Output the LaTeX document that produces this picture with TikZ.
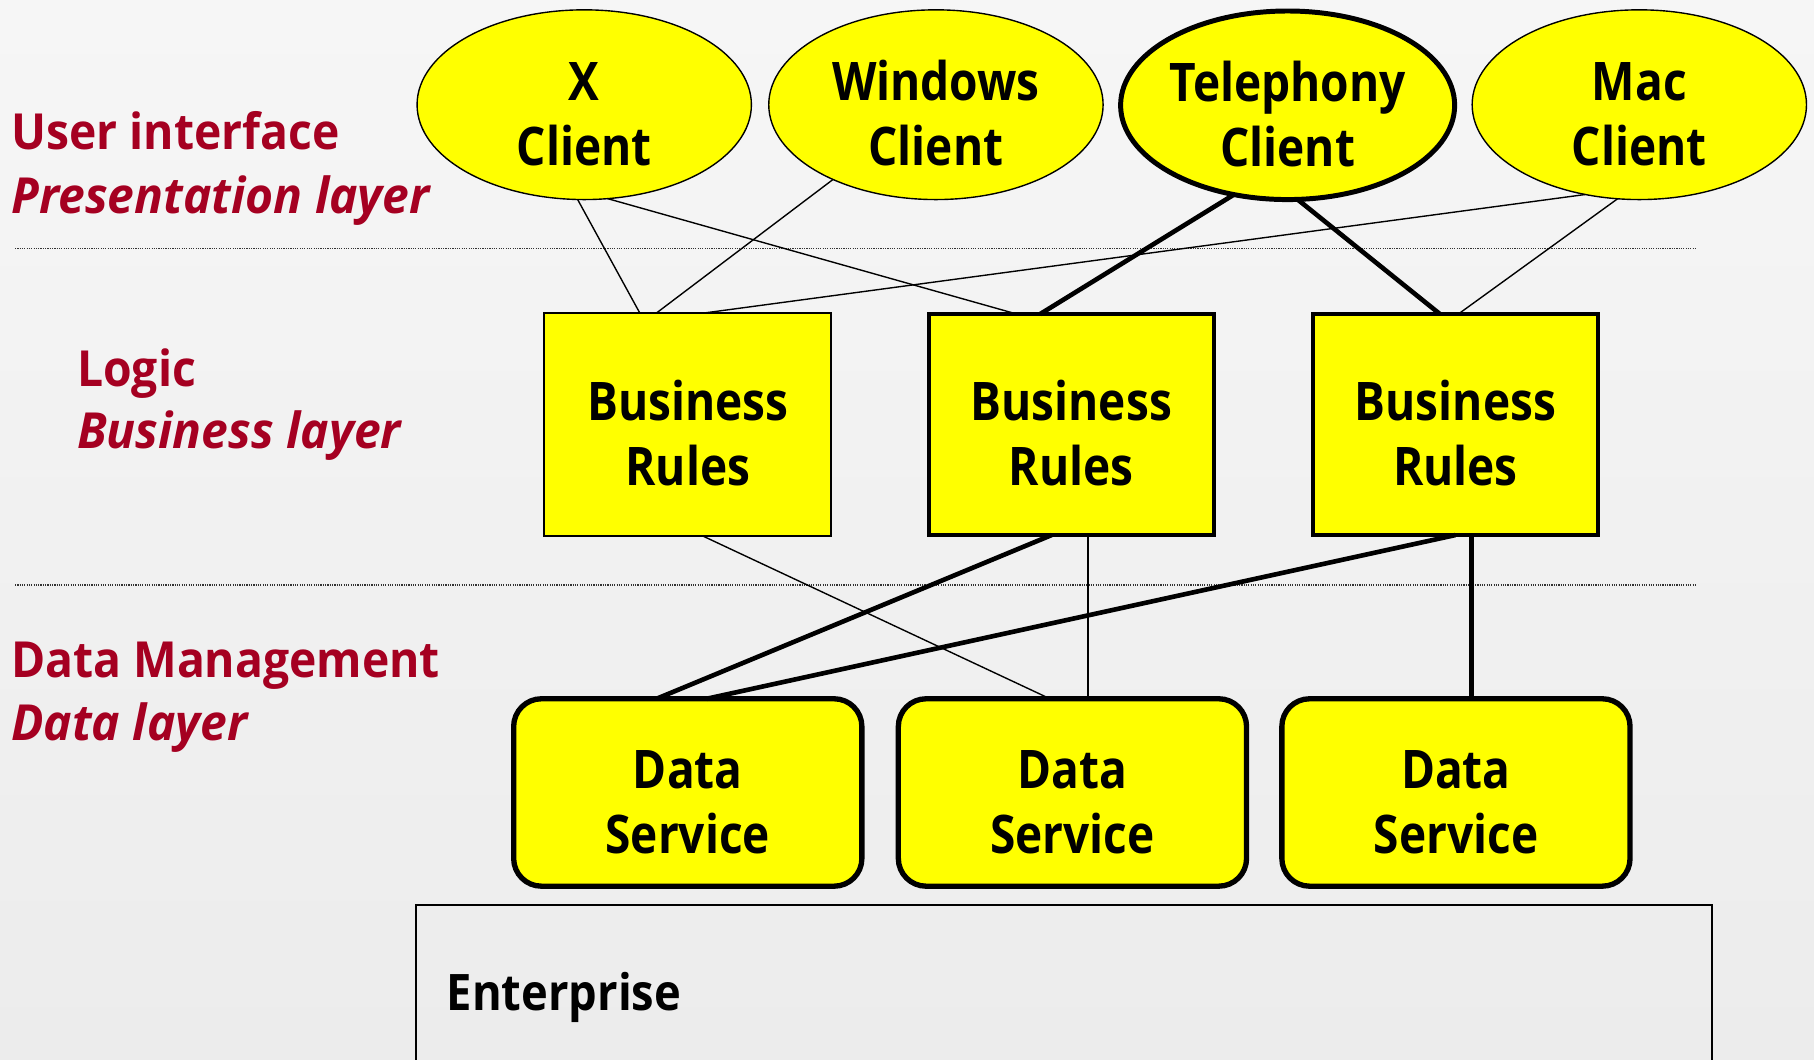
\documentclass[tikz,border=0pt]{standalone}
\usepackage{fontspec}
\setmainfont{Open Sans}
\newfontfamily\shapefont[FakeStretch=0.865]{Open Sans}
\newfontfamily\entfont[FakeStretch=0.9]{Open Sans}
\newfontfamily\tierfont[FakeStretch=0.93]{Open Sans}
\newfontfamily\tieritfont[FakeStretch=0.965]{Open Sans}
\usetikzlibrary{shapes.geometric,calc}

\definecolor{tierred}{HTML}{A50021}
\definecolor{boxyellow}{HTML}{FFFF00}
\definecolor{bgtop}{HTML}{F6F6F6}
\definecolor{bgbottom}{HTML}{ECECEC}

% raises the first text line so two-line labels sit like the slide layout
\newcommand\firstline{\rule{0pt}{50pt}}

\tikzset{
  boxtext/.style={font=\shapefont\bfseries\fontsize{46}{56}\selectfont, align=center, text=black},
  client/.style={ellipse, draw, fill=boxyellow, line width=1.2pt, inner sep=0pt, outer sep=0pt,
                 minimum width=289pt, minimum height=164pt, boxtext},
  boldclient/.style={client, line width=4.3pt, minimum width=286pt, minimum height=163pt},
  rulebox/.style={rectangle, draw, fill=boxyellow, line width=1.7pt, inner sep=0pt, outer sep=0pt,
                  minimum width=248pt, minimum height=193pt, boxtext},
  boldrulebox/.style={rulebox, line width=3.8pt, minimum width=246.5pt, minimum height=191pt},
  dsbox/.style={rectangle, rounded corners=24pt, draw, fill=boxyellow, line width=4.6pt,
                inner sep=0pt, outer sep=0pt, minimum width=301pt, minimum height=162pt, boxtext},
  entbox/.style={rectangle, draw, line width=1.5pt, inner sep=0pt, outer sep=0pt,
                 minimum width=1120pt, minimum height=170pt},
  tier/.style={anchor=base west, inner sep=0pt, text=tierred,
               font=\tierfont\bfseries\fontsize{43}{50}\selectfont},
  tierit/.style={tier, font=\tieritfont\bfseries\itshape\fontsize{43}{50}\selectfont},
  thinlink/.style={line width=1.2pt},
  thicklink/.style={line width=4pt},
  divider/.style={line width=1.3pt, black!80, dash pattern=on 1pt off 1pt},
}

\begin{document}
\begin{tikzpicture}[x=1pt,y=-1pt]
\useasboundingbox (0,0) rectangle (1568,916);
\begin{scope}
\clip (0,0) rectangle (1568,916);
\shade[top color=bgtop, bottom color=bgbottom] (0,0) rectangle (1568,916);

% layer separators
\draw[divider] (13,215) -- (1466,215);
\draw[divider] (13,505.5) -- (1466,505.5);

% tier captions
\node[tier] (ui1) at (9.5,129) {User interface};
\node[tierit] (ui2) at (9.5,184.5) {Presentation layer};
\node[tier] (lg1) at (66.5,334) {Logic};
\node[tierit] (lg2) at (66.5,388) {Business layer};
\node[tier] (dm1) at (9.5,586) {Data Management};
\node[tierit] (dm2) at (9.5,640.5) {Data layer};

% clients
\node[client] (xcl) at (505,90.5) {\firstline X\\Client};
\node[client] (wcl) at (809,90.5) {\firstline Windows\\Client};
\node[boldclient] (tcl) at (1113,91) {\firstline Telephony\\Client};
\node[client] (mcl) at (1417,90.5) {\firstline Mac\\Client};

% business rules
\node[rulebox] (br1) at (594.5,367) {\firstline Business\\Rules};
\node[boldrulebox] (br2) at (926,367) {\firstline Business\\Rules};
\node[boldrulebox] (br3) at (1258,367) {\firstline Business\\Rules};

% data services
\node[dsbox] (ds1) at (594.5,685) {\firstline Data\\Service};
\node[dsbox] (ds2) at (927,685) {\firstline Data\\Service};
\node[dsbox] (ds3) at (1258.5,685) {\firstline Data\\Service};

% enterprise
\node[entbox] (ent) at (919.5,867) {};
\node[anchor=base west, inner sep=0pt, font=\entfont\bfseries\fontsize{43.5}{50}\selectfont] (entlbl) at (386,873.5) {Enterprise};

% client to business rules
\draw[thinlink] (xcl.-94.8) -- ([xshift=-41.5pt]br1.north);
\draw[thinlink] (xcl.-76.6) -- ([xshift=-47pt]br2.north);
\draw[thinlink] (wcl.-144.3) -- ([xshift=-27pt]br1.north);
\draw[thicklink] (tcl.-121.8) -- ([xshift=-27pt]br2.north);
\draw[thicklink] (tcl.-84.6) -- ([xshift=-13.3pt]br3.north);
\draw[thinlink] (mcl.-121.6) -- ([xshift=14.5pt]br1.north);
\draw[thinlink] (mcl.-103.8) -- ([xshift=2.5pt]br3.north);

% business rules to data services
\draw[thinlink] ([xshift=13.4pt]br1.south) -- ([xshift=-19.4pt]ds2.north);
\draw[thicklink] ([xshift=-17pt]br2.south) -- ([xshift=-27pt]ds1.north);
\draw[thinlink] ([xshift=14.5pt]br2.south) -- ([xshift=14.5pt]br2.south |- ds2.north);
\draw[thicklink] (br3.south) -- ([xshift=16.3pt]ds1.north);
\draw[thicklink] ([xshift=14pt]br3.south) -- ([xshift=14pt]br3.south |- ds3.north);
\end{scope}
\end{tikzpicture}
\end{document}
